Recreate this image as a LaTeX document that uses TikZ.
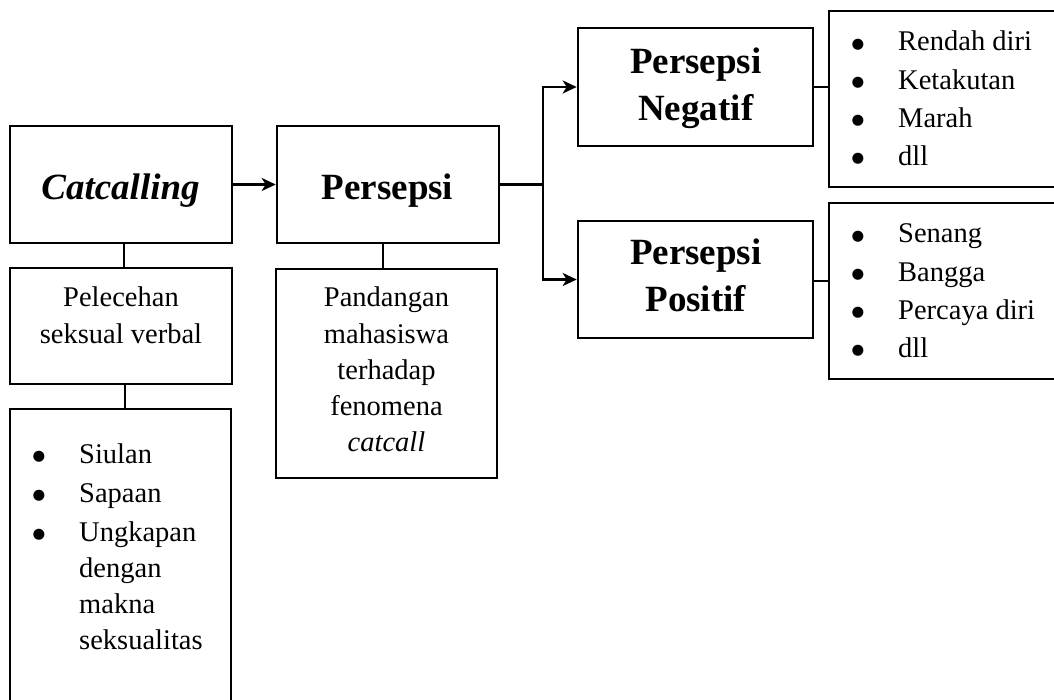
\documentclass[tikz,border=0pt]{standalone}
\usepackage{fontspec}
\setmainfont{Liberation Serif}
\newfontfamily\dotfont{DejaVu Sans}
\usetikzlibrary{arrows.meta}
\newcommand\listdot{\makebox[46pt][l]{\hspace{-0.5pt}\raisebox{2.9pt}{\fontsize{14.5}{14.5}\dotfont ●}}}
\begin{document}
\begin{tikzpicture}[x=1pt,y=-1pt,
  box/.style={draw, line width=2.6pt, inner sep=0pt},
  head/.style={inner sep=0pt, anchor=base, font=\fontsize{37}{46.5}\selectfont\bfseries},
  body/.style={inner sep=0pt, anchor=base, font=\fontsize{28.5}{36.25}\selectfont},
  bullets/.style={inner sep=0pt, anchor=base west, font=\fontsize{28.5}{38.3}\selectfont},
  link/.style={line width=2.4pt},
  arr/.style={link, -{Stealth[length=14pt,width=13pt,inset=4pt]}},
]
\useasboundingbox (0,0) rectangle (1054,700);
\clip (0,0) rectangle (1054,700);

% boxes
\node[box, minimum width=222pt, minimum height=117pt] (cat) at (121,184.5) {};
\node[box, minimum width=222pt, minimum height=116pt] (pel) at (121,326) {};
\node[box, minimum width=221pt, minimum height=351pt] (lst) at (120.5,584.5) {};
\node[box, minimum width=222pt, minimum height=117pt] (per) at (388,184.5) {};
\node[box, minimum width=221pt, minimum height=209pt] (pan) at (386.5,373.5) {};
\node[box, minimum width=235pt, minimum height=118pt] (neg) at (695.5,87) {};
\node[box, minimum width=235pt, minimum height=117pt] (pos) at (695.5,279.5) {};
\node[box, minimum width=271pt, minimum height=176pt] (nlst) at (964.5,99) {};
\node[box, minimum width=271pt, minimum height=176pt] (plst) at (964.5,291) {};

% texts
\node[head] (catT) at (120.5,200) {\itshape Catcalling};
\node[head] (perT) at (387.5,200) {Persepsi};
\node[head] (negT) at (695.8,74) {\begin{tabular}[t]{@{}c@{}}Persepsi\\Negatif\end{tabular}};
\node[head] (posT) at (695.8,265) {\begin{tabular}[t]{@{}c@{}}Persepsi\\Positif\end{tabular}};
\node[body] (pelT) at (121,307) {\begin{tabular}[t]{@{}c@{}}Pelecehan\\seksual verbal\end{tabular}};
\node[body] (panT) at (386.5,307) {\begin{tabular}[t]{@{}c@{}}Pandangan\\mahasiswa\\terhadap\\fenomena\\\textit{catcall}\end{tabular}};
\node[body, anchor=base west] (lstT) at (33,463) {\begin{tabular}[t]{@{}l@{}l@{}}
  \listdot & Siulan\\[2.8pt]
  \listdot & Sapaan\\[2.8pt]
  \listdot & Ungkapan\\
           & dengan\\
           & makna\\
           & seksualitas
\end{tabular}};
\node[bullets] (nlstT) at (852,51) {\begin{tabular}[t]{@{}l@{}l@{}}
  \listdot & Rendah diri\\
  \listdot & Ketakutan\\
  \listdot & Marah\\
  \listdot & dll
\end{tabular}};
\node[bullets] (plstT) at (852,243) {\begin{tabular}[t]{@{}l@{}l@{}}
  \listdot & Senang\\
  \listdot & Bangga\\
  \listdot & Percaya diri\\
  \listdot & dll
\end{tabular}};

% connectors
\coordinate (j) at (543,184.5);
\draw[link] ([xshift=3pt]cat.south) -- ([xshift=3pt]cat.south |- pel.north);
\draw[link] ([xshift=4pt]pel.south) -- ([xshift=4pt]pel.south |- lst.north);
\draw[link] ([xshift=-5pt]per.south) -- ([xshift=-5pt]per.south |- pan.north);
\draw[arr] (cat.east) -- (per.west);
\draw[link] (per.east) -- (j);
\draw[arr] (j) |- (neg.west);
\draw[arr] (j) |- (pos.west);
\draw[link] (neg.east) -- (neg.east -| nlst.west);
\draw[link] ([yshift=-1.5pt]pos.east) -- ([yshift=-1.5pt]pos.east -| plst.west);
\end{tikzpicture}
\end{document}
